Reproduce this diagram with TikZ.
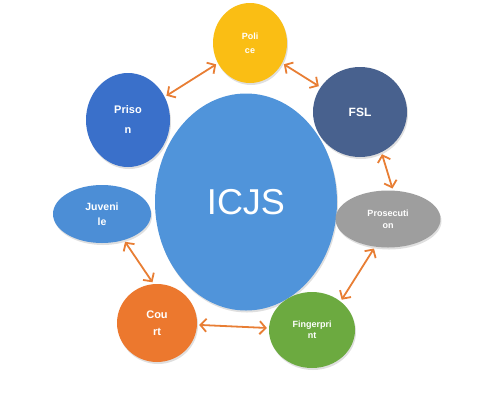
\documentclass[tikz,border=0pt]{standalone}
\usepackage{fontspec}
\setmainfont{Liberation Sans}
\usepackage{xcolor}
\usepackage{tikz}
\usetikzlibrary{shapes,arrows.meta,shadows,calc}

\definecolor{icjsblue}{RGB}{80,148,218}
\definecolor{prisonblue}{RGB}{58,112,202}
\definecolor{juvblue}{RGB}{76,142,214}
\definecolor{fslslate}{RGB}{72,97,142}
\definecolor{prosgray}{RGB}{158,158,158}
\definecolor{policegold}{RGB}{250,190,20}
\definecolor{courtorange}{RGB}{236,120,46}
\definecolor{fpgreen}{RGB}{108,170,64}
\definecolor{linkorange}{RGB}{232,126,52}

\tikzset{
    agency/.style={ellipse, inner sep=0pt, text=white, align=center,
        font=\bfseries, drop shadow={opacity=0.25, shadow xshift=1pt, shadow yshift=-2pt}},
    link/.style={draw=linkorange, line width=1.8pt,
        {Straight Barb[length=6pt,width=13pt]}-{Straight Barb[length=6pt,width=13pt]},
        shorten >=2pt, shorten <=2pt}
}

\begin{document}
\begin{tikzpicture}[x=1pt,y=-1pt]
            \useasboundingbox (0,0) rectangle (500,400);

            % centre
            \node[agency, fill=icjsblue, minimum width=182pt, minimum height=217pt,
                font=\fontsize{36}{40}\selectfont] (icjs) at (246,202) {ICJS};

            % ring of agencies
            \node[agency, fill=policegold, minimum width=74pt, minimum height=80pt,
                font=\bfseries\fontsize{9}{11}\selectfont] (police) at (250,43) {Poli\\[3pt]ce};
            \node[agency, fill=fslslate, minimum width=94pt, minimum height=90pt,
                font=\bfseries\fontsize{12}{14}\selectfont] (fsl) at (360,112) {FSL};
            \node[agency, fill=prosgray, minimum width=105pt, minimum height=57pt,
                font=\bfseries\fontsize{9}{11}\selectfont] (prosecution) at (388,219) {Prosecuti\\[1pt]on};
            \node[agency, fill=fpgreen, minimum width=86pt, minimum height=76pt,
                font=\bfseries\fontsize{9}{11}\selectfont] (fingerprint) at (312,330) {Fingerpri\\nt};
            \node[agency, fill=courtorange, minimum width=80pt, minimum height=78pt,
                font=\bfseries\fontsize{11}{13}\selectfont] (court) at (157,323) {Cou\\[4pt]rt};
            \node[agency, fill=juvblue, minimum width=98pt, minimum height=58pt,
                font=\bfseries\fontsize{10.5}{12}\selectfont] (juvenile) at (102,214) {Juveni\\[3pt]le};
            \node[agency, fill=prisonblue, minimum width=84pt, minimum height=94pt,
                font=\bfseries\fontsize{11}{13}\selectfont] (prison) at (128,120) {Priso\\[7pt]n};

            % two-way links
            \draw[link] (prison) -- (police);
            \draw[link] (police) -- (fsl);
            \draw[link] (fsl.-62) -- (prosecution.80);
            \draw[link] (prosecution.-115) -- (fingerprint.45);
            \draw[link] (court) -- (fingerprint);
            \draw[link] (juvenile.-50) -- (court.95);
        \end{tikzpicture}
\end{document}
